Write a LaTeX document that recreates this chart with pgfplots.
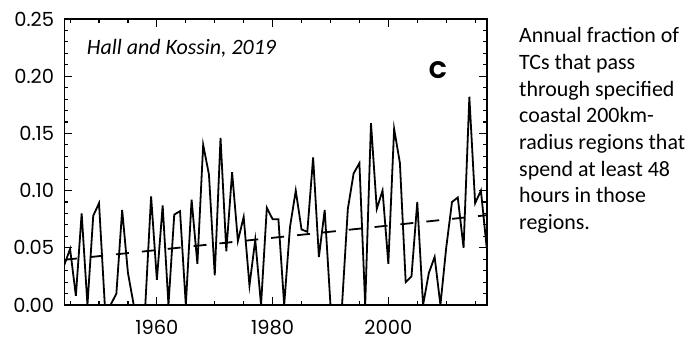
\documentclass[border=0pt]{standalone}
\usepackage{fontspec}
\setmainfont{Carlito}
\newfontfamily\tickfont{Poppins}
\usepackage{pgfplots}
\pgfplotsset{compat=1.18}

\pgfplotstableread{
year val
1944 0.035
1945 0.049
1946 0.008
1947 0.080
1948 0.000
1949 0.078
1950 0.089
1951 0.000
1952 0.000
1953 0.010
1954 0.083
1955 0.028
1956 0.000
1957 0.000
1958 0.000
1959 0.095
1960 0.022
1961 0.087
1962 0.000
1963 0.079
1964 0.082
1965 0.000
1966 0.092
1967 0.036
1968 0.140
1969 0.114
1970 0.026
1971 0.146
1972 0.047
1973 0.116
1974 0.056
1975 0.077
1976 0.017
1977 0.057
1978 0.000
1979 0.085
1980 0.075
1981 0.075
1982 0.000
1983 0.068
1984 0.100
1985 0.066
1986 0.064
1987 0.129
1988 0.042
1989 0.083
1990 0.000
1991 0.000
1992 0.000
1993 0.084
1994 0.115
1995 0.124
1996 0.000
1997 0.159
1998 0.084
1999 0.100
2000 0.036
2001 0.154
2002 0.124
2003 0.020
2004 0.025
2005 0.090
2006 0.000
2007 0.028
2008 0.042
2009 0.000
2010 0.050
2011 0.090
2012 0.094
2013 0.050
2014 0.182
2015 0.089
2016 0.100
2017 0.050
}\annual

\begin{document}
\begin{tikzpicture}[x=1bp,y=1bp]
\useasboundingbox (0,0) rectangle (698,348);
\begin{axis}[
  at={(64.3bp,43bp)}, anchor=south west,
  scale only axis, width=422.4bp, height=286bp,
  xmin=1944, xmax=2017, ymin=0, ymax=0.25,
  xtick={1960,1980,2000},
  minor xtick={1945,1950,...,2015},
  ytick={0,0.05,0.10,0.15,0.20,0.25},
  minor ytick={0.01,0.02,0.03,0.04,0.06,0.07,0.08,0.09,0.11,0.12,0.13,0.14,0.16,0.17,0.18,0.19,0.21,0.22,0.23,0.24},
  tick align=inside,
  major tick length=8bp, minor tick length=4bp,
  every tick/.style={black, line width=1.1bp},
  axis line style={black, line width=1.6bp},
  /pgf/number format/assume math mode=true,
  yticklabel style={/pgf/number format/fixed, /pgf/number format/fixed zerofill, /pgf/number format/precision=2},
  xticklabel style={/pgf/number format/1000 sep={}},
  tick label style={font=\tickfont\fontsize{19.5}{19.5}\selectfont, inner sep=0pt},
  yticklabel style={xshift=-10bp},
  xticklabel style={yshift=-15bp},
  clip=true,
]
\addplot[black, line width=1.8bp, mark=none] table[x=year, y=val] {\annual};
\addplot[black, line width=1.8bp, mark=none, dash pattern=on 13bp off 13bp] coordinates {(1944,0.0395) (2017,0.0785)};
\end{axis}
\node[anchor=west, inner sep=0pt, font=\itshape\fontsize{22}{22}\selectfont] at (86.7,300) {Hall and Kossin, 2019};
\node[inner sep=0pt, font=\tickfont\bfseries\fontsize{24}{24}\selectfont] at (438,278) {C};
\foreach \t [count=\i from 0] in {Annual fraction of, TCs that pass, through specified, coastal 200km-, radius regions that, spend at least 48, hours in those, regions.}{
  \node[anchor=base west, inner sep=0pt, font=\fontsize{22}{22}\selectfont] at (519,{348-42.7-26.7*\i}) {\t};
}
\end{tikzpicture}
\end{document}
